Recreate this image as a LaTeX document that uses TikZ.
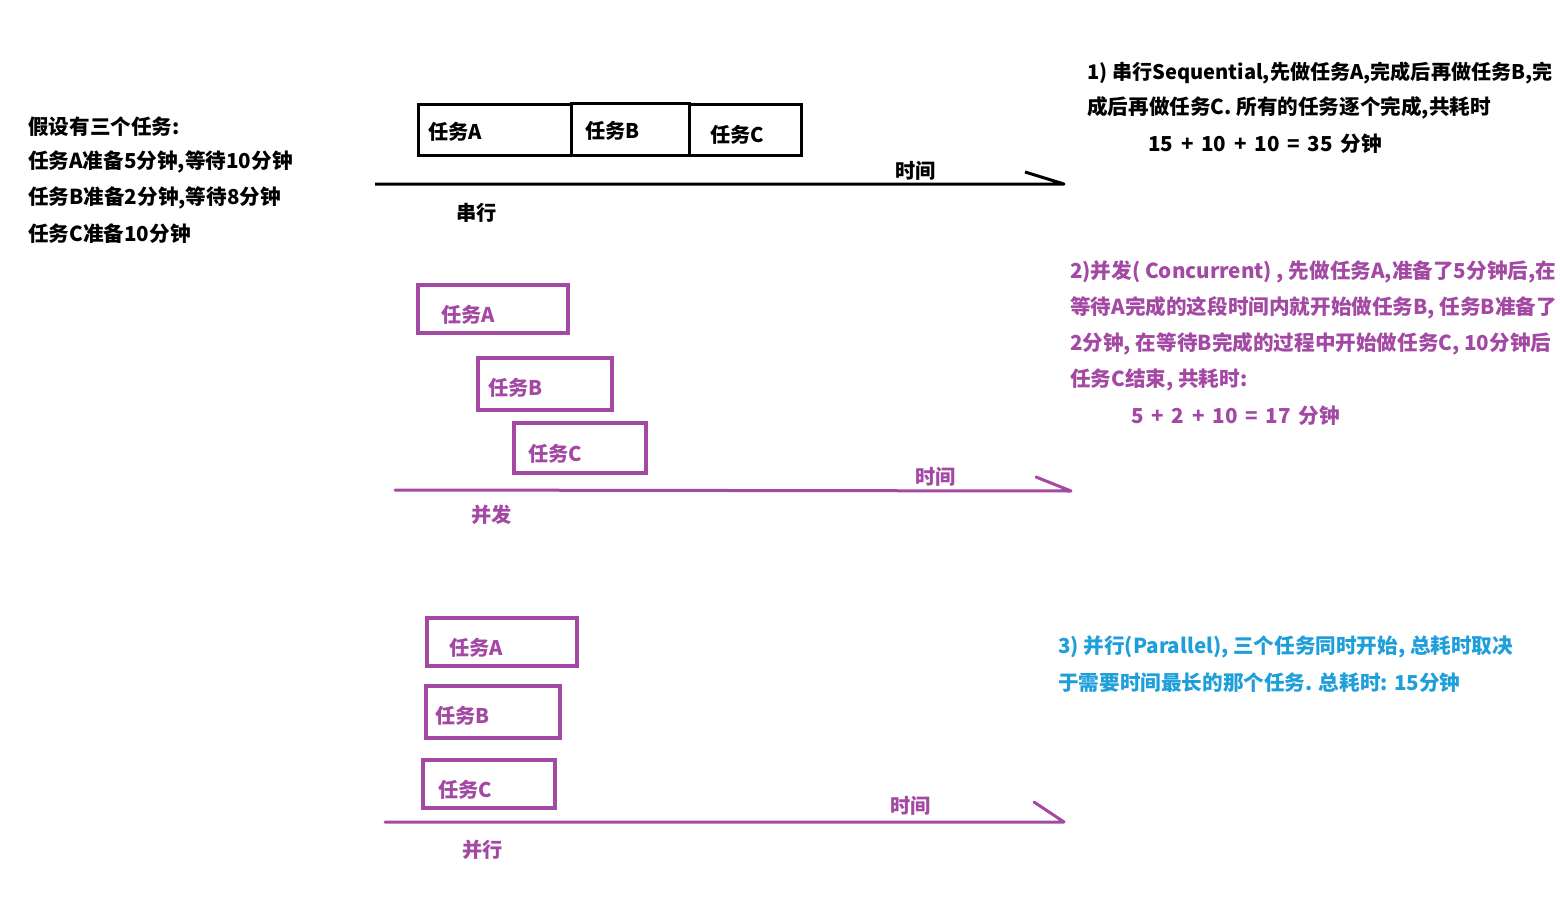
\documentclass[tikz,border=0pt]{standalone}
\usepackage{fontspec}
\setmainfont{Noto Sans CJK SC}
\definecolor{pp}{HTML}{A349A4}
\definecolor{bl}{HTML}{1E9FDA}
\newcommand{\wsp}{\hspace{7.8pt}}
\begin{document}
\begin{tikzpicture}[x=1pt,y=-1pt,
  txt/.style={anchor=west,inner sep=0pt,font=\fontsize{20.6}{24}\selectfont\bfseries},
  lbl/.style={txt,font=\fontsize{20.2}{24}\selectfont\bfseries},
  sbox/.style={draw=black,line width=3pt,inner sep=0pt},
  pbox/.style={draw=pp,line width=3.5pt,inner sep=0pt},
  saxis/.style={draw=black,line width=3pt,line join=round},
  paxis/.style={draw=pp,line width=3pt,line cap=round,line join=round}]
\useasboundingbox[fill=white] (0,0) rectangle (1560,918);

% left text
\node[txt] (l1) at (28,127) {假设有三个任务:};
\node[txt] (l2) at (28,162) {任务A准备5分钟,等待10分钟};
\node[txt] (l3) at (28,198) {任务B准备2分钟,等待8分钟};
\node[txt] (l4) at (28,234) {任务C准备10分钟};

% serial
\node[sbox,minimum width=153,minimum height=51] (sA) at (494.5,129.5) {};
\node[sbox,minimum width=118,minimum height=52] (sB) at (630,129) {};
\node[sbox,minimum width=112,minimum height=51] (sC) at (745,129.5) {};
\node[lbl] (sAl) at (428,132) {任务A};
\node[lbl] (sBl) at (585,131) {任务B};
\node[lbl] (sCl) at (710,135) {任务C};
\coordinate (s0) at (375,184);
\coordinate (s1) at (1064,184);
\coordinate (s2) at (1025,172);
\draw[saxis] (s0) -- (s1) -- (s2);
\node[lbl] (st) at (895,171) {时间};
\node[lbl] (sn) at (456,213) {串行};

% concurrent
\node[pbox,minimum width=150,minimum height=48] (cA) at (493,309) {};
\node[pbox,minimum width=134,minimum height=52] (cB) at (545,384) {};
\node[pbox,minimum width=132,minimum height=50] (cC) at (580,448) {};
\node[lbl,text=pp] (cAl) at (441,315) {任务A};
\node[lbl,text=pp] (cBl) at (488,388) {任务B};
\node[lbl,text=pp] (cCl) at (528,454) {任务C};
\coordinate (c0) at (395,490);
\coordinate (c1) at (1071,491);
\coordinate (c2) at (1036,477);
\draw[paxis] (c0) -- (c1) -- (c2);
\node[lbl,text=pp] (ct) at (915,477) {时间};
\node[lbl,text=pp] (cn) at (471,515) {并发};

% parallel
\node[pbox,minimum width=150,minimum height=48] (pA) at (502,642) {};
\node[pbox,minimum width=134,minimum height=52] (pB) at (493,712) {};
\node[pbox,minimum width=132,minimum height=48] (pC) at (489,784) {};
\node[lbl,text=pp] (pAl) at (449,648) {任务A};
\node[lbl,text=pp] (pBl) at (435,716) {任务B};
\node[lbl,text=pp] (pCl) at (438,790) {任务C};
\coordinate (p0) at (385,822);
\coordinate (p1) at (1064,822);
\coordinate (p2) at (1034,802);
\draw[paxis] (p0) -- (p1) -- (p2);
\node[lbl,text=pp] (pt) at (890,806) {时间};
\node[lbl,text=pp] (pn) at (462,850) {并行};

% right text 1
\node[txt,font=\fontsize{20.1}{24}\selectfont\bfseries] (r1a) at (1087,73) {1) 串行Sequential,先做任务A,完成后再做任务B,完};
\node[txt] (r1b) at (1087,108) {成后再做任务C. 所有的任务逐个完成,共耗时};
\node[txt] (r1c) at (1148,144) {15\wsp{}+\wsp{}10\wsp{}+\wsp{}10\wsp{}=\wsp{}35\wsp{}分钟};

% right text 2
\node[txt,text=pp] (r2a) at (1070,272) {2)并发( Concurrent) , 先做任务A,准备了5分钟后,在};
\node[txt,text=pp] (r2b) at (1070,308) {等待A完成的这段时间内就开始做任务B, 任务B准备了};
\node[txt,text=pp] (r2c) at (1070,344) {2分钟, 在等待B完成的过程中开始做任务C, 10分钟后};
\node[txt,text=pp] (r2d) at (1070,380) {任务C结束, 共耗时:};
\node[txt,text=pp] (r2e) at (1131,416) {5\wsp{}+\wsp{}2\wsp{}+\wsp{}10\wsp{}=\wsp{}17\wsp{}分钟};

% right text 3
\node[txt,text=bl] (r3a) at (1058,647) {3) 并行(Parallel), 三个任务同时开始, 总耗时取决};
\node[txt,text=bl] (r3b) at (1058,683) {于需要时间最长的那个任务. 总耗时: 15分钟};
\end{tikzpicture}
\end{document}
